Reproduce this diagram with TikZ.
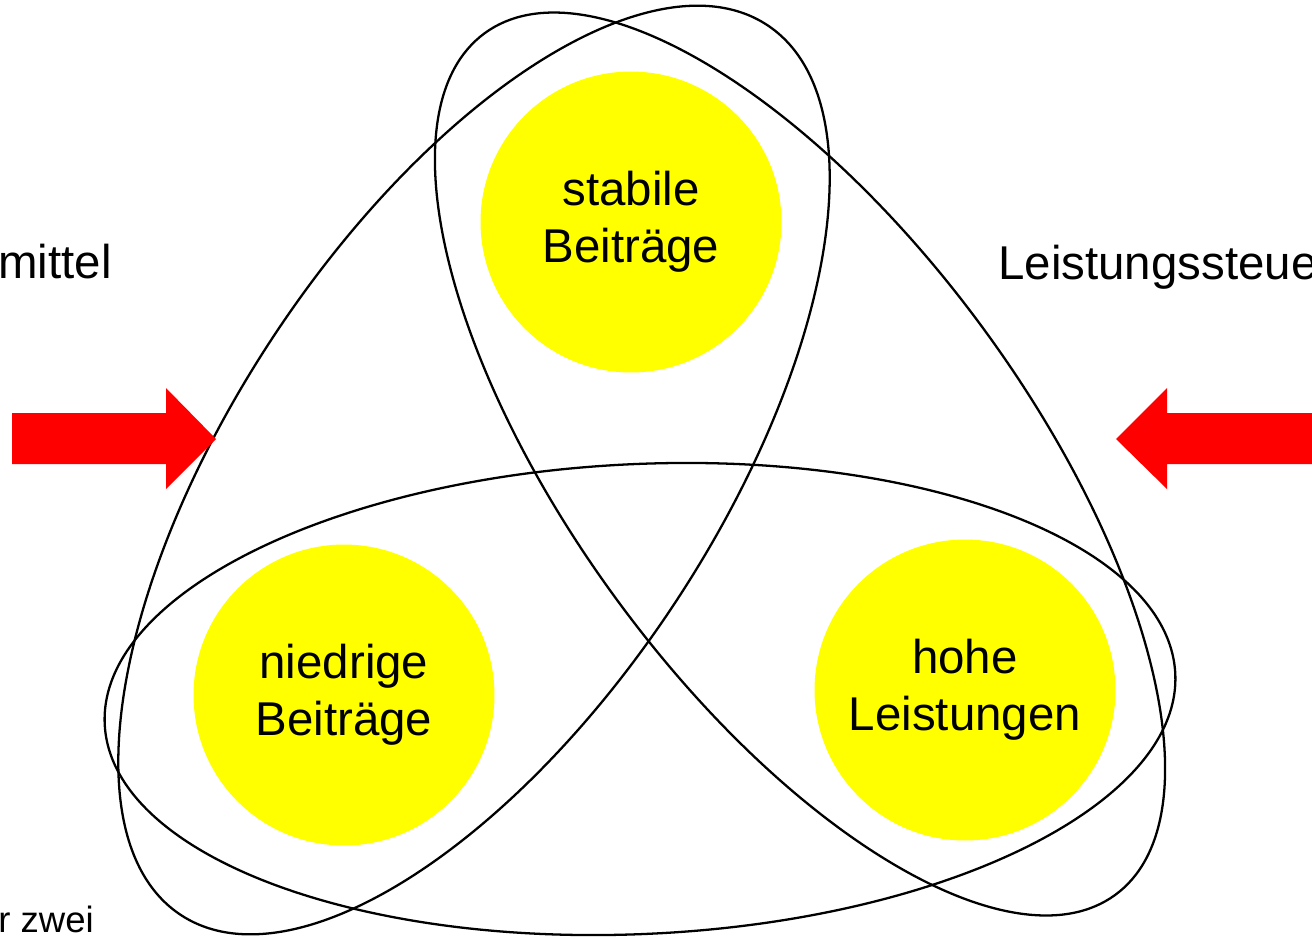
\documentclass[tikz,border=0pt]{standalone}
\usepackage{fontspec}
\setmainfont{Liberation Sans}
\definecolor{goalyellow}{RGB}{255,255,0}
\definecolor{pushred}{RGB}{255,0,0}
\begin{document}
\begin{tikzpicture}[x=0.02cm, y=-0.02cm,
					goalnode/.style={circle,
					minimum size=6.02cm,
					inner sep=0pt,
					fill=goalyellow,
					align=center,
					font=\fontsize{27}{32.5}\selectfont},
					ringline/.style={black,
					line width=1.3pt},
					sidetext/.style={anchor=base west,
					inner sep=0pt,
					font=\fontsize{27}{32.5}\selectfont},
					pusharrow/.style={fill=pushred}
					]

% fixed frame, texts at the edges are cut off
\useasboundingbox (0,0) rectangle (1312,938);
\clip (0,0) rectangle (1312,938);

%goal nodes
\node[goalnode] (stable) at (631,222) {stabile\\Beiträge};
\node[goalnode] (low) at (344,695) {niedrige\\Beiträge};
\node[goalnode] (high) at (965,690) {hohe\\Leistungen};

% rings
\draw[ringline, rotate around={2.7:(640,699)}] (640,699) ellipse [x radius=10.72cm, y radius=4.7cm];
\draw[ringline, rotate around={-53.8:(800,464)}] (800,464) ellipse [x radius=10.68cm, y radius=4.56cm];
\draw[ringline, rotate around={56.6:(474,470)}] (474,470) ellipse [x radius=10.66cm, y radius=4.82cm];

% Arrows
\fill[pusharrow] (12,413) -- (166,413) -- (166,388) -- (216,439) -- (166,489) -- (166,464) -- (12,464) -- cycle;
\fill[pusharrow] (1320,413) -- (1167,413) -- (1167,388) -- (1116,439) -- (1167,489) -- (1167,464) -- (1320,464) -- cycle;

% side texts
\node[sidetext] (lefttext) at (-2,278) {mittel};
\node[sidetext] (righttext) at (998,279) {Leistungssteue};
\node[sidetext, font=\fontsize{20.8}{25}\selectfont] (foottext) at (-2,932) {r zwei};

\end{tikzpicture}
\end{document}
